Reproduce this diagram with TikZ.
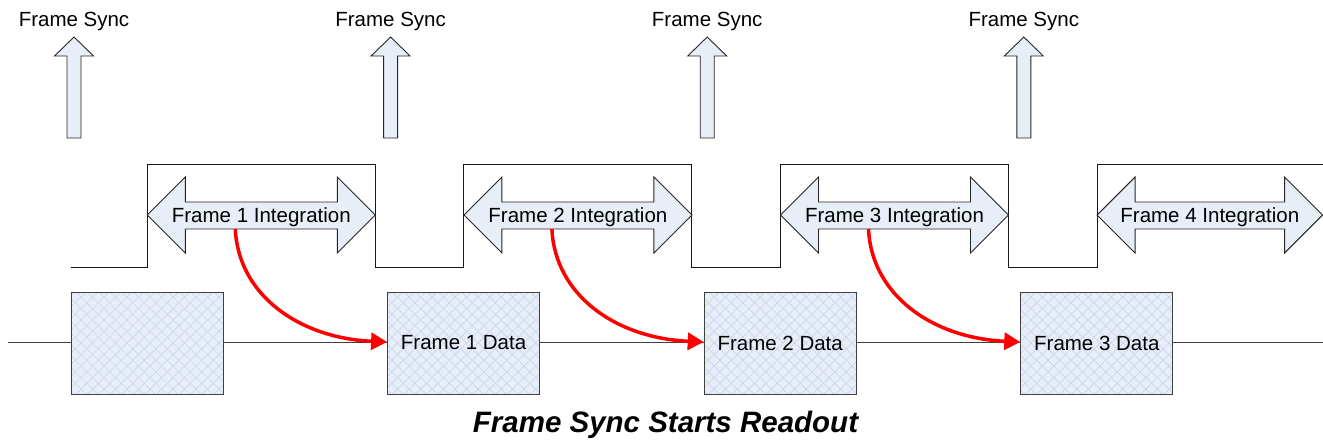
\documentclass[tikz,border=0pt]{standalone}
\usepackage{fontspec}
\setmainfont{Liberation Sans}
\usetikzlibrary{arrows.meta}
\definecolor{fillb}{HTML}{E8EEF8}
\definecolor{hatchc}{HTML}{CAD6EC}
\definecolor{lineg}{HTML}{404040}
\begin{document}
\begin{tikzpicture}[x=1pt,y=-1pt,
  lbl/.style={font=\fontsize{20.5}{24}\selectfont, inner sep=0pt},
  arrowshape/.style={draw=black!85, line width=0.9pt, fill=fillb, line join=miter},
  wave/.style={draw=black!90, line width=1pt},
  hatch/.style={draw=hatchc, line width=0.7pt},
  databox/.style={draw=lineg, line width=1pt, minimum width=152pt, minimum height=102pt, inner sep=0pt, lbl},
  dline/.style={draw=lineg, line width=0.9pt},
  redarrow/.style={draw=red, line width=3.5pt, -{Triangle[length=16pt,width=17pt]}}]
\useasboundingbox (0,0) rectangle (1323,447);

% Frame sync arrows
\foreach \i in {0,1,2,3} {
  \pgfmathsetmacro\cx{74+316.6*\i}
  \draw[arrowshape] (\cx,37) -- (\cx+19.5,56) -- (\cx+7,56) -- (\cx+7,138) -- (\cx-7,138) -- (\cx-7,56) -- (\cx-19.5,56) -- cycle;
  \node[lbl, anchor=base] (fs\i) at (\cx,26) {Frame Sync};
}

% square wave
\draw[wave] (71,267) -- (147.3,267) -- (147.3,164) -- (375.3,164) -- (375.3,267)
  -- (463.9,267) -- (463.9,164) -- (691.9,164) -- (691.9,267)
  -- (780.5,267) -- (780.5,164) -- (1008.5,164) -- (1008.5,267)
  -- (1097.1,267) -- (1097.1,164) -- (1323,164);

% integration double arrows
\foreach \i/\xa/\xb in {1/147.3/375.3, 2/463.9/691.9, 3/780.5/1008.5, 4/1097.1/1322.6} {
  \draw[arrowshape] (\xa,215) -- (\xa+38,177) -- (\xa+38,202) -- (\xb-38,202) -- (\xb-38,177)
    -- (\xb,215) -- (\xb-38,253) -- (\xb-38,229) -- (\xa+38,229) -- (\xa+38,253) -- cycle;
  \pgfmathsetmacro\mx{(\xa+\xb)/2}
  \node[lbl, anchor=base] (int\i) at (\mx,222) {Frame \i{} Integration};
  \coordinate (s\i) at (\xa+88,229);
}

% data line endpoints
\coordinate (lstart) at (8,342);
\coordinate (lend) at (1323,342);

% data boxes
\foreach \i in {0,1,2,3} {
  \pgfmathsetmacro\bx{71+316.6*\i}
  \begin{scope}
    \clip (\bx,292) rectangle ++(152,102);
    \fill[fillb] (\bx,292) rectangle ++(152,102);
    \foreach \c in {-110,-98.5,...,160} {
      \draw[hatch] (\bx+\c,292) -- ++(102,102);
      \draw[hatch] (\bx+\c,394) -- ++(102,-102);
    }
  \end{scope}
}
\node[databox] (d0) at (147,343) {};
\node[databox] (d1) at (463.6,343) {Frame 1 Data};
\node[databox] (d2) at (780.2,343) {Frame 2 Data};
\node[databox] (d3) at (1096.8,343) {Frame 3 Data};

\draw[dline] (lstart) -- (d0.west |- lstart);
\draw[dline] (d0.east |- lstart) -- (d1.west |- lstart);
\draw[dline] (d1.east |- lstart) -- (d2.west |- lstart);
\draw[dline] (d2.east |- lstart) -- (d3.west |- lstart);
\draw[dline] (d3.east |- lstart) -- (lend);

% red readout arrows
\draw[redarrow] (s1) .. controls +(3,66) and +(-88,-4) .. (d1.west |- lstart);
\draw[redarrow] (s2) .. controls +(3,66) and +(-88,-4) .. (d2.west |- lstart);
\draw[redarrow] (s3) .. controls +(3,66) and +(-88,-4) .. (d3.west |- lstart);

% title
\node[font=\fontsize{29.5}{34}\selectfont\bfseries\itshape, anchor=base, inner sep=0pt] (title) at (665.5,432) {Frame Sync Starts Readout};
\end{tikzpicture}
\end{document}
